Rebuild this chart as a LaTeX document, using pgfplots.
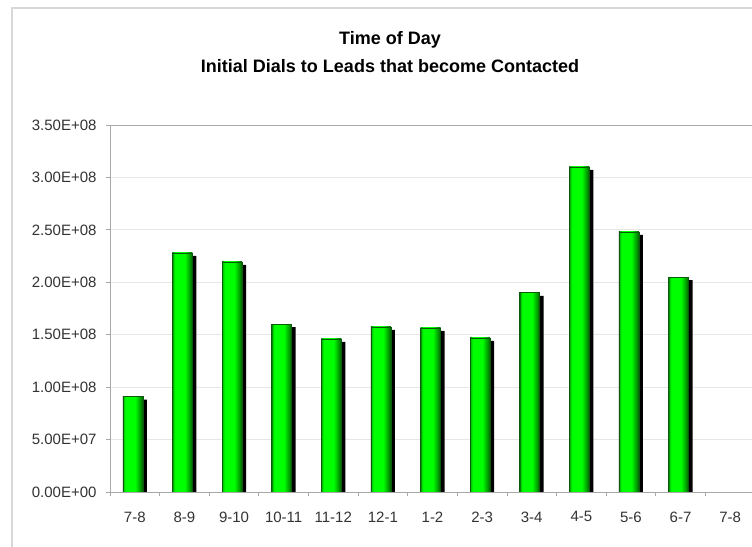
\documentclass[border=0pt]{standalone}
\usepackage{pgfplots}
\pgfplotsset{compat=1.18}
\usepackage{fontspec}
\setmainfont{Liberation Sans}
\definecolor{gridgray}{HTML}{E6E6E6}
\definecolor{axgray}{HTML}{A8A8A8}
\definecolor{labgray}{HTML}{333333}
\definecolor{bordergray}{HTML}{D8D8D8}
\definecolor{gdark}{HTML}{0B5A0B}
\definecolor{gmid}{HTML}{00C800}
\definecolor{gbright}{HTML}{00FF00}
\definecolor{gright}{HTML}{00A000}
\pgfdeclarehorizontalshading{barshade}{100bp}{color(0bp)=(gdark); color(25bp)=(gdark); color(27bp)=(gmid); color(32bp)=(gbright); color(56bp)=(gbright); color(68bp)=(gright); color(75bp)=(gdark); color(100bp)=(gdark)}
\pgfplotstableread{
x y
0 91000000
1 228000000
2 219500000
3 160000000
4 146000000
5 157500000
6 156500000
7 147000000
8 190000000
9 310000000
10 248000000
11 205000000
}\datatable
\begin{document}
\begin{tikzpicture}[x=1pt,y=1pt]
\useasboundingbox (0,0) rectangle (752,546);
\clip (0,0) rectangle (752,546);
\fill[white] (0,0) rectangle (752,546);
\draw[bordergray, line width=1.5pt] (12,-5) -- (12,538) -- (760,538);
\node[anchor=base, font=\fontsize{18}{20}\selectfont\bfseries] at (390,501) {Time of Day};
\node[anchor=base, font=\fontsize{18}{20}\selectfont\bfseries] at (390,473) {Initial Dials to Leads that become Contacted};
\begin{axis}[
  at={(110pt,54pt)}, anchor=south west,
  scale only axis, width=645pt, height=367pt,
  xmin=-0.5, xmax=12.5, ymin=0, ymax=350000000,
  axis line style={axgray, line width=0.8pt},
  ytick={0,50000000,100000000,150000000,200000000,250000000,300000000,350000000},
  yticklabels={0.00E+00,5.00E+07,1.00E+08,1.50E+08,2.00E+08,2.50E+08,3.00E+08,3.50E+08},
  scaled y ticks=false,
  ymajorgrids, grid style={gridgray, line width=0.8pt},
  xtick={-0.5,0.5,1.5,2.5,3.5,4.5,5.5,6.5,7.5,8.5,9.5,10.5,11.5,12.5},
  xticklabels={},
  extra x ticks={0,1,2,3,4,5,6,7,8,9,10,11,12},
  extra x tick labels={7-8,8-9,9-10,10-11,11-12,12-1,1-2,2-3,3-4,4-5,5-6,6-7,7-8},
  extra x tick style={major tick length=0pt, grid=none},
  tick pos=left,
  tick align=outside, major tick length=4pt,
  tick style={axgray, line width=0.8pt},
  ticklabel style={font=\fontsize{15}{17}\selectfont, text=labgray},
  yticklabel style={xshift=-6pt},
  xticklabel style={yshift=-16pt},
  clip=true,
]
\addplot[ybar, bar width=20pt, bar shift=2pt, fill=black, draw=none, yshift=-3pt] table[x=x,y=y] {\datatable};
\pgfplotsinvokeforeach{-0.2:0.2,0.8:1.2,1.8:2.2,2.8:3.2,3.8:4.2,4.8:5.2,5.8:6.2,6.8:7.2,7.8:8.2,8.8:9.2,9.8:10.2,10.8:11.2}{
\addplot[ybar, bar width=20pt, bar shift=-2pt, draw=gdark, line width=0.6pt,
  shading=barshade, restrict x to domain=#1] table[x=x,y=y] {\datatable};
}
\end{axis}
\end{tikzpicture}
\end{document}
